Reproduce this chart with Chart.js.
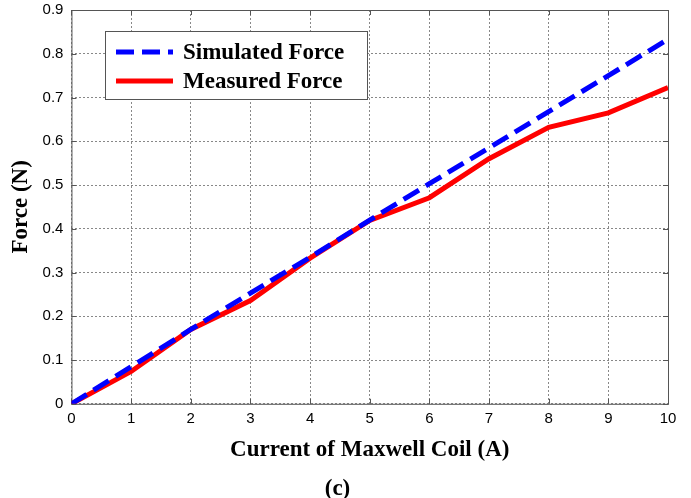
<!DOCTYPE html>
<html>
<head>
<meta charset="utf-8">
<script src="https://cdn.jsdelivr.net/npm/chart.js@4"></script>
<style>
  html, body { margin: 0; padding: 0; background: #fff; overflow: hidden; }
  #wrap { width: 691px; height: 505px; position: relative; margin-top: -7px; }
</style>
</head>
<body>
<div id="wrap"><canvas id="forceChart"></canvas></div>
<script>
const currents = [0, 1, 2, 3, 4, 5, 6, 7, 8, 9, 10];
const simulatedForce = [0, 0.085, 0.17, 0.253, 0.335, 0.42, 0.503, 0.585, 0.668, 0.75, 0.833];
const measuredForce = [0, 0.074, 0.17, 0.236, 0.333, 0.419, 0.471, 0.56, 0.632, 0.665, 0.723];

// Rahmen, Tickmarks und Legende im Matlab-Stil
const framePlugin = {
  id: "frame",
  beforeDatasetsDraw(chart) {
    const { ctx, chartArea: a, scales } = chart;
    ctx.save();
    ctx.strokeStyle = "#555";
    ctx.lineWidth = 1;
    ctx.strokeRect(a.left + 0.5, a.top + 0.5, a.right - a.left, a.bottom - a.top);
    ctx.beginPath();
    scales.x.ticks.forEach((t) => {
      const px = Math.round(scales.x.getPixelForValue(t.value)) + 0.5;
      ctx.moveTo(px, a.bottom);
      ctx.lineTo(px, a.bottom - 5);
      ctx.moveTo(px, a.top);
      ctx.lineTo(px, a.top + 5);
    });
    scales.y.ticks.forEach((t) => {
      const py = Math.round(scales.y.getPixelForValue(t.value)) + 0.5;
      ctx.moveTo(a.left, py);
      ctx.lineTo(a.left + 5, py);
      ctx.moveTo(a.right, py);
      ctx.lineTo(a.right - 5, py);
    });
    ctx.stroke();
    ctx.restore();
  },
  afterDatasetsDraw(chart) {
    const { ctx } = chart;
    // Legende sitzt fest oben links im Plot (Canvas ist um 7px nach oben verschoben)
    const x = 105, y = 38, w = 262, h = 68;
    ctx.save();
    ctx.fillStyle = "#fff";
    ctx.fillRect(x, y, w, h);
    ctx.strokeStyle = "#555";
    ctx.lineWidth = 1;
    ctx.strokeRect(x + 0.5, y + 0.5, w, h);
    chart.data.datasets.forEach((ds, i) => {
      const ly = y + 21 + i * 29;
      ctx.beginPath();
      ctx.strokeStyle = ds.borderColor;
      ctx.lineWidth = 5;
      ctx.setLineDash(ds.borderDash || []);
      ctx.moveTo(x + 11, ly);
      ctx.lineTo(x + 68, ly);
      ctx.stroke();
      ctx.setLineDash([]);
      ctx.fillStyle = "#000";
      ctx.font = "bold 23px 'Liberation Serif'";
      ctx.textBaseline = "middle";
      ctx.fillText(ds.label, x + 78, ly + 1);
    });
    ctx.restore();
  },
};

const ctx = document.querySelector("#forceChart").getContext("2d");
new Chart(ctx, {
  type: "line",
  data: {
    labels: currents,
    datasets: [
      {
        label: "Simulated Force",
        data: simulatedForce,
        borderColor: "#0000ff",
        borderWidth: 5,
        borderDash: [18, 8],
        pointRadius: 0,
        tension: 0,
      },
      {
        label: "Measured Force",
        data: measuredForce,
        borderColor: "#ff0000",
        borderWidth: 5,
        pointRadius: 0,
        tension: 0,
      },
    ],
  },
  options: {
    responsive: true,
    maintainAspectRatio: false,
    animation: false,
    layout: { padding: { top: 0, right: 23, left: 7, bottom: -5 } },
    plugins: {
      legend: { display: false },
      tooltip: { enabled: false },
      title: {
        display: true,
        text: "(c)",
        position: "bottom",
        color: "#000",
        font: { family: "'Liberation Serif'", size: 23, weight: "bold" },
        padding: { top: 12, bottom: 0 },
      },
    },
    scales: {
      x: {
        type: "linear",
        min: 0,
        max: 10,
        ticks: {
          stepSize: 1,
          color: "#000",
          font: { family: "'Liberation Sans'", size: 15 },
          padding: 6,
        },
        grid: { color: "#888", tickLength: 0, drawTicks: false },
        border: { display: false, dash: [2, 2] },
        title: {
          display: true,
          text: "Current of Maxwell Coil (A)",
          color: "#000",
          font: { family: "'Liberation Serif'", size: 23, weight: "bold" },
          padding: { top: 2, bottom: 0 },
        },
      },
      y: {
        min: 0,
        max: 0.9,
        ticks: {
          stepSize: 0.1,
          color: "#000",
          font: { family: "'Liberation Sans'", size: 15 },
          padding: 8,
          callback: (v) => (Math.abs(v) < 1e-9 ? "0" : Number(v.toFixed(1)).toString()),
        },
        grid: { color: "#888", drawTicks: false },
        border: { display: false, dash: [2, 2] },
        title: {
          display: true,
          text: "Force (N)",
          color: "#000",
          font: { family: "'Liberation Serif'", size: 23, weight: "bold" },
          padding: { top: 0, bottom: 0 },
        },
      },
    },
  },
  plugins: [framePlugin],
});
</script>
</body>
</html>
